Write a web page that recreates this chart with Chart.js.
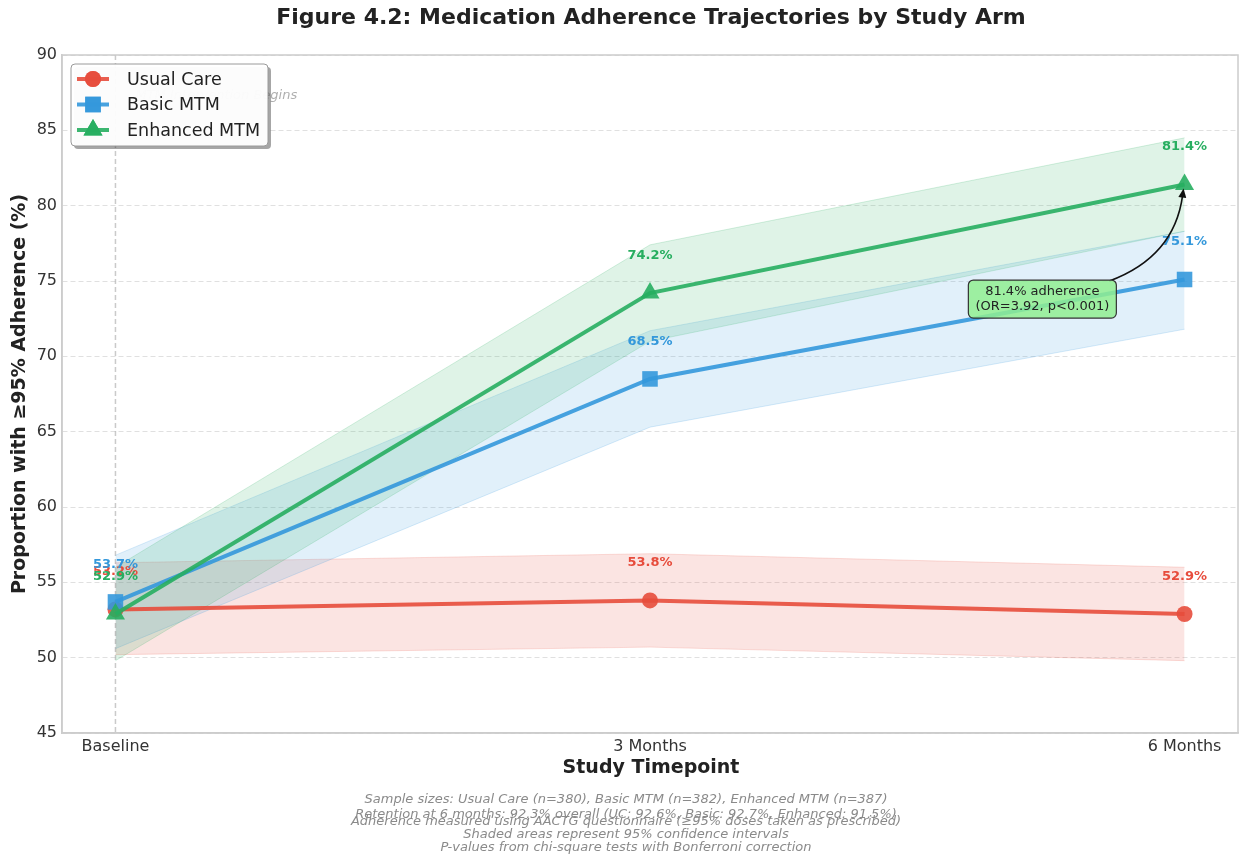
<!DOCTYPE html>
<html><head><meta charset="utf-8">
<script src="https://cdn.jsdelivr.net/npm/chart.js@4.4.0/dist/chart.umd.min.js"></script>
<style>html,body{margin:0;padding:0;background:#fff;} #wrap{width:1239px;height:860px;}</style>
</head><body><div id="wrap"><canvas id="c" width="1239" height="860"></canvas></div>
<script>
const timepoints = ['Baseline', '3 Months', '6 Months'];
const arms = ['Usual Care', 'Basic MTM', 'Enhanced MTM'];
const usualCare = [53.2, 53.8, 52.9];
const usualCareLow = [50.2, 50.7, 49.8];
const usualCareHigh = [56.3, 56.9, 56.0];
const basicMTM = [53.7, 68.5, 75.1];
const basicLow = [50.6, 65.3, 71.8];
const basicHigh = [56.8, 71.7, 78.3];
const enhancedMTM = [52.9, 74.2, 81.4];
const enhancedLow = [49.8, 71.0, 78.3];
const enhancedHigh = [56.0, 77.4, 84.5];
const yTicks = [45, 50, 55, 60, 65, 70, 75, 80, 85, 90];
const titleText = 'Figure 4.2: Medication Adherence Trajectories by Study Arm';
const xTitle = 'Study Timepoint';
const yTitle = 'Proportion with \u226595% Adherence (%)';
const annotationLines = ['81.4% adherence', '(OR=3.92, p<0.001)'];
const interventionText = 'MTM Intervention Begins';
const footnotes = [
  'Sample sizes: Usual Care (n=380), Basic MTM (n=382), Enhanced MTM (n=387)',
  'Retention at 6 months: 92.3% overall (UC: 92.6%, Basic: 92.7%, Enhanced: 91.5%)',
  'Adherence measured using AACTG questionnaire (\u226595% doses taken as prescribed)',
  'Shaded areas represent 95% confidence intervals',
  'P-values from chi-square tests with Bonferroni correction'
];

const F = '"DejaVu Sans", sans-serif';
const colors = ['#e74c3c', '#3498db', '#27ae60'];
const series = [usualCare, basicMTM, enhancedMTM];
const lows = [usualCareLow, basicLow, enhancedLow];
const highs = [usualCareHigh, basicHigh, enhancedHigh];
const markers = ['circle', 'rect', 'triangle'];
const radii = [8, 11, 11];

function rgba(hex, a) {
  const n = parseInt(hex.slice(1), 16);
  return `rgba(${(n >> 16) & 255},${(n >> 8) & 255},${n & 255},${a})`;
}
const pts = arr => arr.map((v, j) => ({ x: j, y: v }));

const datasets = [];
series.forEach((s, i) => {
  datasets.push({ label: '_low' + i, data: pts(lows[i]), borderColor: rgba(colors[i], 0.18), borderWidth: 1,
    pointRadius: 0, fill: false, order: 12 - i });
  datasets.push({ label: '_high' + i, data: pts(highs[i]), borderColor: rgba(colors[i], 0.18), borderWidth: 1,
    pointRadius: 0, backgroundColor: rgba(colors[i], 0.15), fill: '-1', order: 12 - i });
});
series.forEach((s, i) => {
  datasets.push({ label: arms[i], data: pts(s), borderColor: rgba(colors[i], 0.9), backgroundColor: rgba(colors[i], 0.9),
    borderWidth: 4, pointStyle: markers[i], pointRadius: radii[i], pointBorderWidth: 0, fill: false, order: 2 - i });
});

const decor = {
  id: 'decor',
  beforeDatasetsDraw(chart) {
    const { ctx, chartArea: a, scales: { x, y } } = chart;
    ctx.save();
    const bx = x.getPixelForValue(0);
    ctx.strokeStyle = 'rgba(150,150,150,0.5)';
    ctx.lineWidth = 1.5;
    ctx.setLineDash([5, 3]);
    ctx.beginPath(); ctx.moveTo(bx, a.top); ctx.lineTo(bx, a.bottom); ctx.stroke();
    ctx.setLineDash([]);
    ctx.fillStyle = 'rgba(110,110,110,0.55)';
    ctx.font = 'italic 13px ' + F;
    ctx.textAlign = 'left'; ctx.textBaseline = 'middle';
    ctx.fillText(interventionText, bx + 20, y.getPixelForValue(87.3));
    ctx.strokeStyle = '#cccccc';
    ctx.lineWidth = 1.5;
    ctx.strokeRect(a.left, a.top, a.right - a.left, a.bottom - a.top);
    ctx.restore();
  },
  afterDatasetsDraw(chart) {
    const { ctx, scales: { x, y } } = chart;
    ctx.save();
    ctx.font = 'bold 13px ' + F;
    ctx.textAlign = 'center'; ctx.textBaseline = 'middle';
    series.forEach((s, i) => {
      s.forEach((v, j) => {
        ctx.fillStyle = colors[i];
        ctx.fillText(v.toFixed(1) + '%', x.getPixelForValue(j), y.getPixelForValue(v + 2.5));
      });
    });
    const px = x.getPixelForValue(2), py = y.getPixelForValue(enhancedMTM[2]);
    const cx = x.getPixelForValue(1.734), cy = y.getPixelForValue(73.8);
    const ax = cx + 67, ay = cy - 18;
    const bxp = px - 1, byp = py + 4;
    const dx = bxp - ax, dy = -(byp - ay);
    const mx = (ax + bxp) / 2, my = (ay + byp) / 2;
    const qx = mx + 0.3 * dy, qy = my + 0.3 * dx;
    ctx.strokeStyle = '#111'; ctx.lineWidth = 1.6;
    const ang = Math.atan2(byp - qy, bxp - qx);
    const hl = 9;
    const ex = bxp - Math.cos(ang) * hl * 0.8, ey = byp - Math.sin(ang) * hl * 0.8;
    ctx.beginPath(); ctx.moveTo(ax, ay); ctx.quadraticCurveTo(qx, qy, ex, ey); ctx.stroke();
    ctx.fillStyle = '#111';
    ctx.beginPath();
    ctx.moveTo(bxp, byp);
    ctx.lineTo(bxp - hl * Math.cos(ang) + 4 * Math.sin(ang), byp - hl * Math.sin(ang) - 4 * Math.cos(ang));
    ctx.lineTo(bxp - hl * Math.cos(ang) - 4 * Math.sin(ang), byp - hl * Math.sin(ang) + 4 * Math.cos(ang));
    ctx.closePath(); ctx.fill();
    const bw = 148, bh = 38;
    ctx.beginPath();
    ctx.roundRect(cx - bw / 2, cy - bh / 2, bw, bh, 5);
    ctx.fillStyle = 'rgba(144,238,144,0.85)';
    ctx.fill();
    ctx.strokeStyle = '#333'; ctx.lineWidth = 1.2; ctx.stroke();
    ctx.fillStyle = '#222';
    ctx.font = '13px ' + F;
    ctx.fillText(annotationLines[0], cx, cy - 7);
    ctx.fillText(annotationLines[1], cx, cy + 8);
    ctx.restore();
  },
  afterDraw(chart) {
    const { ctx, chartArea: a } = chart;
    ctx.save();
    ctx.fillStyle = '#222';
    ctx.textAlign = 'center'; ctx.textBaseline = 'middle';
    ctx.font = 'bold 22px ' + F;
    ctx.fillText(titleText, 651, 18);
    ctx.font = 'bold 19px ' + F;
    ctx.fillText(xTitle, (a.left + a.right) / 2 + 1, 768);
    ctx.save();
    ctx.translate(20, (a.top + a.bottom) / 2);
    ctx.rotate(-Math.PI / 2);
    ctx.fillText(yTitle, 0, 0);
    ctx.restore();
    ctx.fillStyle = '#8a8a8a';
    ctx.font = 'italic 13px ' + F;
    const fy = [800, 815, 822, 835, 848];
    footnotes.forEach((t, i) => ctx.fillText(t, 626, fy[i]));
    const lx = 71, ly = 64, lw = 197, lh = 82;
    ctx.fillStyle = 'rgba(0,0,0,0.35)';
    ctx.beginPath(); ctx.roundRect(lx + 3, ly + 3, lw, lh, 4); ctx.fill();
    ctx.fillStyle = 'rgba(255,255,255,0.97)';
    ctx.beginPath(); ctx.roundRect(lx, ly, lw, lh, 4); ctx.fill();
    ctx.strokeStyle = '#9a9a9a'; ctx.lineWidth = 1; ctx.stroke();
    ctx.font = '17.5px ' + F;
    ctx.textAlign = 'left';
    arms.forEach((name, i) => {
      const yy = ly + 15 + i * 25.5;
      ctx.strokeStyle = rgba(colors[i], 0.9); ctx.lineWidth = 4;
      ctx.beginPath(); ctx.moveTo(lx + 6, yy); ctx.lineTo(lx + 38, yy); ctx.stroke();
      ctx.fillStyle = rgba(colors[i], 0.9);
      Chart.helpers.drawPoint(ctx, { pointStyle: markers[i], radius: radii[i], borderWidth: 0 }, lx + 22, yy);
      ctx.fill();
      ctx.fillStyle = '#222';
      ctx.fillText(name, lx + 56, yy + 1);
    });
    ctx.restore();
  }
};

new Chart(document.getElementById('c'), {
  type: 'line',
  data: { datasets },
  options: {
    responsive: false,
    devicePixelRatio: 1,
    animation: false,
    layout: { autoPadding: false, padding: { top: 55, right: 1, left: 0, bottom: 0 } },
    plugins: { legend: { display: false }, tooltip: { enabled: false }, title: { display: false } },
    elements: { line: { tension: 0 } },
    scales: {
      x: {
        type: 'linear', min: -0.1, max: 2.1,
        afterBuildTicks: s => { s.ticks = timepoints.map((_, i) => ({ value: i })); },
        afterFit: s => { s.height = 127; s.paddingLeft = 0; s.paddingRight = 0; },
        ticks: { callback: v => timepoints[v], font: { family: F, size: 16 }, color: '#333', padding: 4, maxRotation: 0 },
        grid: { display: false, drawTicks: false },
        border: { color: '#cccccc', width: 1.5 }
      },
      y: {
        type: 'linear', min: 45, max: 90,
        afterBuildTicks: s => { s.ticks = yTicks.map(v => ({ value: v })); },
        afterFit: s => { s.width = 62; s.paddingTop = 0; s.paddingBottom = 0; },
        ticks: { font: { family: F, size: 16 }, color: '#333', padding: 5 },
        grid: { color: 'rgba(0,0,0,0.12)', drawTicks: false, lineWidth: 1 },
        border: { color: '#cccccc', width: 1.5, dash: [5, 3] }
      }
    }
  },
  plugins: [decor]
});
</script></body></html>
